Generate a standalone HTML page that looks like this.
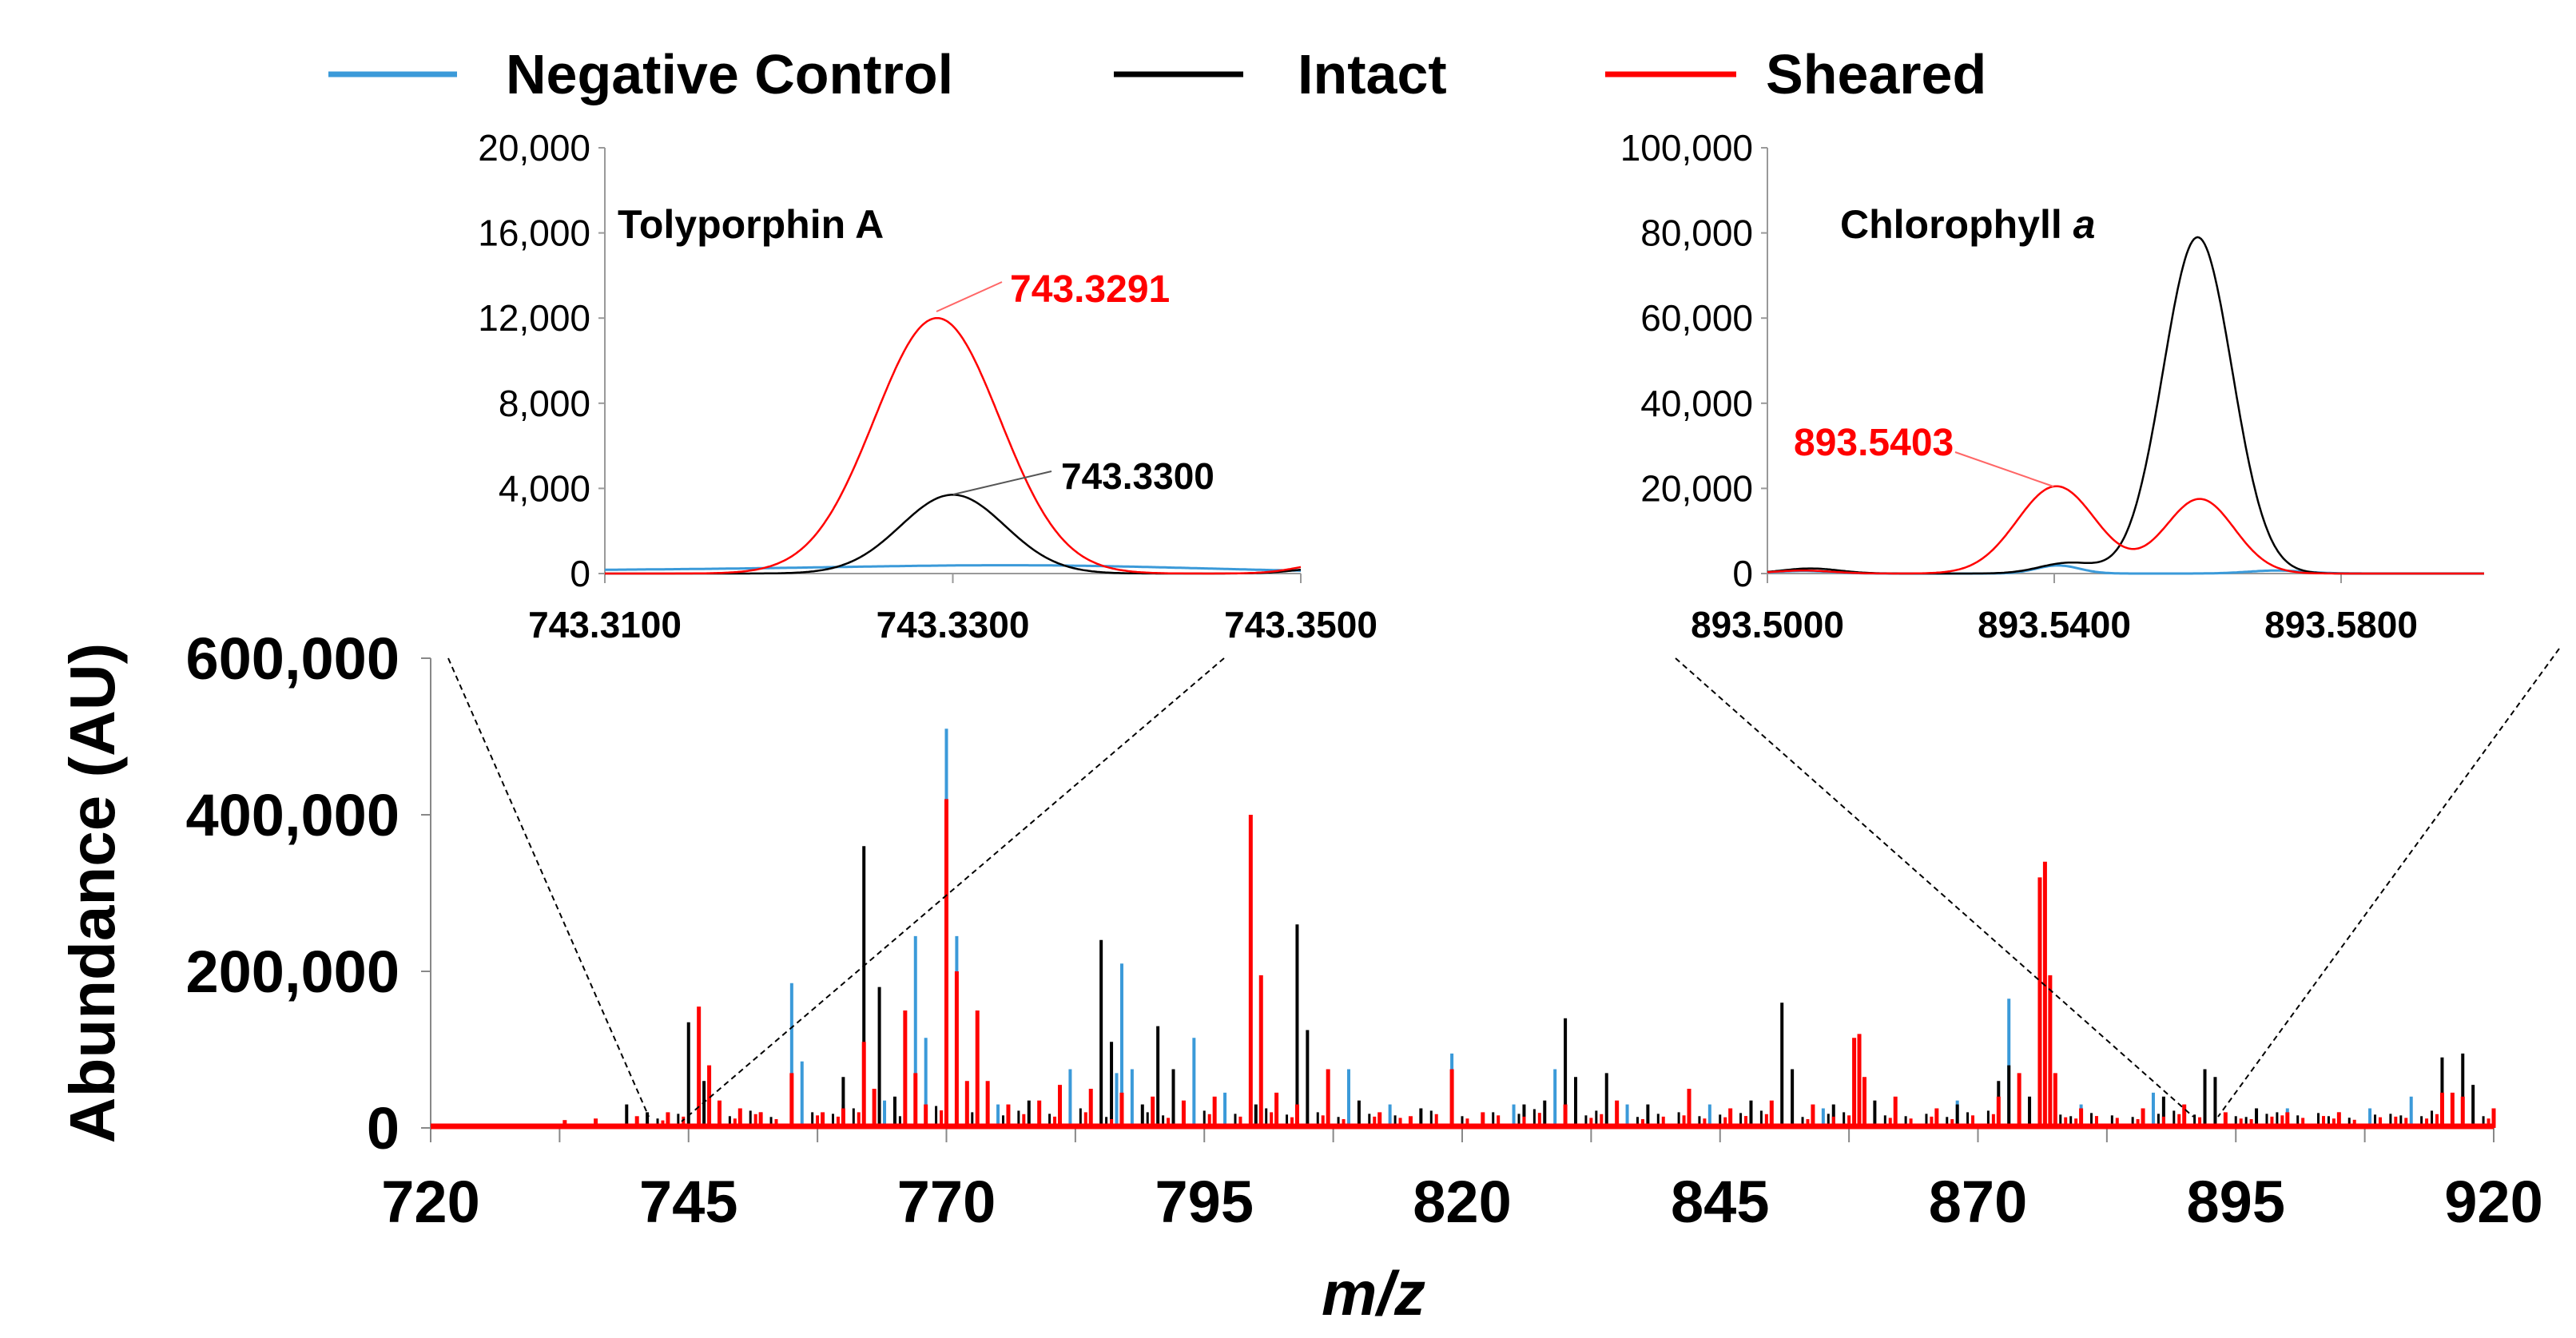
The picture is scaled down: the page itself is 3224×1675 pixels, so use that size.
<!DOCTYPE html>
<html><head><meta charset="utf-8"><style>
html,body{margin:0;padding:0;background:#fff;}
svg{display:block;font-family:"Liberation Sans",Arial,sans-serif;}
</style></head><body>
<svg id="c" width="3224" height="1675" viewBox="0 0 3224 1675">
<g>
 <line x1="411" y1="93" x2="572" y2="93" stroke="#3b9ad9" stroke-width="7"/>
 <text x="633" y="117" font-size="70" font-weight="bold">Negative Control</text>
 <line x1="1394" y1="93" x2="1556" y2="93" stroke="#000" stroke-width="7"/>
 <text x="1624" y="117" font-size="70" font-weight="bold">Intact</text>
 <line x1="2009" y1="93" x2="2173" y2="93" stroke="#f00" stroke-width="7"/>
 <text x="2210" y="117" font-size="70" font-weight="bold">Sheared</text>
</g>
<g id="main"></g>
<g id="in1"></g>
<g id="in2"></g>
<g stroke="#000" stroke-width="2" stroke-dasharray="7,5" fill="none">
 <line x1="561" y1="824" x2="812" y2="1398"/>
 <line x1="1532" y1="824" x2="853" y2="1404"/>
 <line x1="2097" y1="824" x2="2745" y2="1398"/>
 <line x1="3203" y1="812" x2="2776" y2="1398"/>
</g>
</svg>
<script>
// ---------- main spectrum data ----------
const mainXTicks=[720,745,770,795,820,845,870,895,920];
const mainYTicks=[0,200000,400000,600000];
const mainYLabels=["0","200,000","400,000","600,000"];
const blackMz=[739,741,745,746.5,748,752,760,762,763.5,765,776,778,781,785,786,789,790.5,792,796,800,802,804,805,810,816,826,828,830,831,834,838,842,848,851,852,856,860,868,872,873,875,880,888,892,893,897,905,915,917,918];
const blackAb=[30,20,135,60,25,20,65,360,180,40,25,35,40,240,110,30,130,75,30,30,35,260,125,35,25,30,35,140,65,70,30,25,35,160,75,30,35,30,60,80,40,20,40,75,65,25,20,90,95,55];
const blueMz=[743,750,755,756,760,764,767,768,770,771,775,779,782,786.5,787,788,794,797,809,813,819,825,829,836,844,855,868,873,880,887,900,908,912];
const blueAb=[15,25,185,85,30,35,245,115,510,245,30,30,75,70,210,75,115,45,75,30,95,30,75,30,30,25,35,165,30,45,25,25,40];
const redMz=[733,736,740,743,746,747,748,750,752,755,758,760,762,763,766,767,768,770,771,772,773,774,776,779,781,784,787,790,793,796,799.5,800.5,802,804,807,812,815,819,822,830,835,842,846,850,854,858,858.5,859,862,866,872,874,876,876.5,877,877.5,880,886,890,894,900,905,915,916,917,920];
const redAb=[10,12,15,20,155,80,35,25,20,70,20,25,110,50,150,70,30,420,200,60,150,60,30,35,55,50,45,40,35,40,400,195,45,30,75,20,15,75,20,30,35,50,25,35,30,115,120,65,40,25,40,70,320,340,195,70,25,25,30,20,20,20,45,45,40,25];
const noiseMz=[742,744,749,751,753,757,759,761,765.5,769,772.5,775.5,777,780,783,785.5,789.5,791,795,798,801,803,806,808,811,813.5,817,820,823,825.5,827,832,833,837,839,841,843,845,847,849,853,855.5,857,861,863,865,867,869,871,878,879,881,883,885,887.5,889,891,895,896,898,899,901,903,904,906,908.5,910,911,913,914,919];
const noiseAb=[12,18,15,22,14,20,18,25,15,28,20,16,22,18,25,14,20,16,22,18,25,17,20,14,18,16,22,15,20,18,24,16,22,14,18,20,15,17,19,22,14,18,20,16,15,18,14,20,22,17,15,19,16,14,18,22,17,15,14,18,20,16,19,15,13,17,18,16,15,22,15];

const NS='http://www.w3.org/2000/svg';
function mk(parent,tag,attrs,text){const e=document.createElementNS(NS,tag);for(const k in attrs)e.setAttribute(k,attrs[k]);if(text!==undefined)e.textContent=text;parent.appendChild(e);return e;}

const M=document.getElementById('main');
const mx=v=>539+(v-720)/200*(3121-539);
const my=v=>1412-v/600000*(1412-824);
let e;
e=mk(M,'line',{x1:539,y1:824,x2:539,y2:1412,stroke:'#888','stroke-width':2});


e=mk(M,'line',{x1:539,y1:1412,x2:3121,y2:1412,stroke:'#888','stroke-width':2});


mainYTicks.forEach((t,i)=>{
 mk(M,'line',{x1:527,y1:my(t),x2:539,y2:my(t),stroke:'#888','stroke-width':2});
 e=mk(M,'text',{x:500,y:my(t)+26,'font-size':74,'font-weight':'bold','text-anchor':'end'},mainYLabels[i]);
 
 
});
for(let v=720;v<=920;v+=12.5){mk(M,'line',{x1:mx(v),y1:1412,x2:mx(v),y2:1430,stroke:'#888','stroke-width':2});}
mainXTicks.forEach(t=>{
 e=mk(M,'text',{x:mx(t),y:1530,'font-size':74,'font-weight':'bold','text-anchor':'middle'},String(t));
 
 
});
e=mk(M,'text',{x:0,y:0,'font-size':80,'font-weight':'bold','text-anchor':'middle',transform:'translate(143,1118) rotate(-90)'},'Abundance (AU)');


e=mk(M,'text',{x:1719,y:1646,'font-size':78,'font-weight':'bold','font-style':'italic','text-anchor':'middle'},'m/z');


function drawPeaks(mzs,abs,color,w,name){
 const g=mk(M,'g',{});
 
 
 mzs.forEach((m,i)=>{
  if(abs[i]===undefined)return;
  const ln=mk(g,'line',{x1:mx(m),x2:mx(m),y1:1412,y2:my(abs[i]*1000),stroke:color,'stroke-width':w});
  
  
 });
}
drawPeaks(blueMz,blueAb,'#3b9ad9',4,'negative-control-series');
drawPeaks(blackMz,blackAb,'#000',4,'intact-series');
drawPeaks(noiseMz,noiseAb,'#000',3,'intact-noise');
drawPeaks(noiseMz.map(v=>Math.min(v+0.5,920)),noiseAb.map(v=>v*0.8),'#f00',4,'sheared-noise');
drawPeaks(redMz,redAb,'#f00',5,'sheared-series');
e=mk(M,'line',{x1:539,y1:1410,x2:3121,y2:1410,stroke:'#f00','stroke-width':7});



// ---------- inset data: gaussian peak parameters ----------
const in1XTicks=[743.31,743.33,743.35];
const in1XLabels=["743.3100","743.3300","743.3500"];
const in1YTicks=[0,4000,8000,12000,16000,20000];
const in1RedPeaks=[[743.3291,12000,0.0036],[743.352,500,0.002]];
const in1BlackPeaks=[[743.3300,3700,0.0030],[743.352,300,0.002]];
const in1BluePeaks=[[743.318,180,0.02],[743.335,260,0.01]];
const in2XTicks=[893.50,893.54,893.58];
const in2XLabels=["893.5000","893.5400","893.5800"];
const in2YTicks=[0,20000,40000,60000,80000,100000];
const in2RedPeaks=[[893.5403,20500,0.0055],[893.5603,17500,0.0048],[893.505,700,0.004]];
const in2BlackPeaks=[[893.5600,79000,0.0048],[893.542,2500,0.004],[893.506,1200,0.004]];
const in2BluePeaks=[[893.5405,1900,0.003],[893.571,700,0.004],[893.505,600,0.004]];

function inset(id,x0,x1,px0,px1,ymax,xt,xl,yt,series,pxEnd){
 const G=document.getElementById(id);
 const ix=v=>px0+(v-x0)/(x1-x0)*(px1-px0);
 const iy=v=>718-v/ymax*(718-185);
 let e=mk(G,'line',{x1:px0,y1:185,x2:px0,y2:718,stroke:'#999','stroke-width':2});
 
 
 e=mk(G,'line',{x1:px0,y1:718,x2:pxEnd,y2:718,stroke:'#999','stroke-width':2});
 
 
 yt.forEach(t=>{
  mk(G,'line',{x1:px0-8,y1:iy(t),x2:px0,y2:iy(t),stroke:'#999','stroke-width':2});
  e=mk(G,'text',{x:px0-18,y:iy(t)+16,'font-size':46,'text-anchor':'end'},t.toLocaleString('en-US'));
  
  
 });
 xt.forEach((t,i)=>{
  mk(G,'line',{x1:ix(t),y1:718,x2:ix(t),y2:730,stroke:'#999','stroke-width':2});
  e=mk(G,'text',{x:ix(t),y:798,'font-size':46,'font-weight':'bold','text-anchor':'middle'},xl[i]);
  
  
 });
 const xEndVal=x0+(pxEnd-px0)/(px1-px0)*(x1-x0);
 series.forEach(([peaks,color,name])=>{
  let d='';
  for(let k=0;k<=400;k++){const v=x0+(xEndVal-x0)*k/400;let y=0;peaks.forEach(([c,h,s])=>{y+=h*Math.exp(-0.5*((v-c)/s)**2);});d+=(k?'L':'M')+ix(v).toFixed(1)+','+iy(y).toFixed(1);}
  const p=mk(G,'path',{d:d,fill:'none',stroke:color,'stroke-width':color=='#3b9ad9'?3:2.5});
  
  
 });
 return G;
}
const G1=inset('in1',743.31,743.35,757,1628,20000,in1XTicks,in1XLabels,in1YTicks,
 [[in1BluePeaks,'#3b9ad9','in1-negative-control-curve'],[in1BlackPeaks,'#000','in1-intact-curve'],[in1RedPeaks,'#f00','in1-sheared-curve']],1628);
const G2=inset('in2',893.50,893.58,2212,2930,100000,in2XTicks,in2XLabels,in2YTicks,
 [[in2BluePeaks,'#3b9ad9','in2-negative-control-curve'],[in2BlackPeaks,'#000','in2-intact-curve'],[in2RedPeaks,'#f00','in2-sheared-curve']],3109);

e=mk(G1,'text',{x:773,y:298,'font-size':50,'font-weight':'bold'},'Tolyporphin A');


e=mk(G2,'text',{x:2303,y:298,'font-size':50,'font-weight':'bold'},'Chlorophyll ');


const ts=mk(e,'tspan',{'font-style':'italic'},'a');
mk(G1,'line',{x1:1172,y1:390,x2:1254,y2:353,stroke:'#f66','stroke-width':2});
e=mk(G1,'text',{x:1264,y:378,'font-size':48,'font-weight':'bold',fill:'#f00'},'743.3291');


mk(G1,'line',{x1:1193,y1:619,x2:1316,y2:590,stroke:'#555','stroke-width':2});
e=mk(G1,'text',{x:1328,y:612,'font-size':46,'font-weight':'bold'},'743.3300');


mk(G2,'line',{x1:2570,y1:609,x2:2447,y2:566,stroke:'#f66','stroke-width':2});
e=mk(G2,'text',{x:2245,y:570,'font-size':48,'font-weight':'bold',fill:'#f00'},'893.5403');


</script>
</body></html>
